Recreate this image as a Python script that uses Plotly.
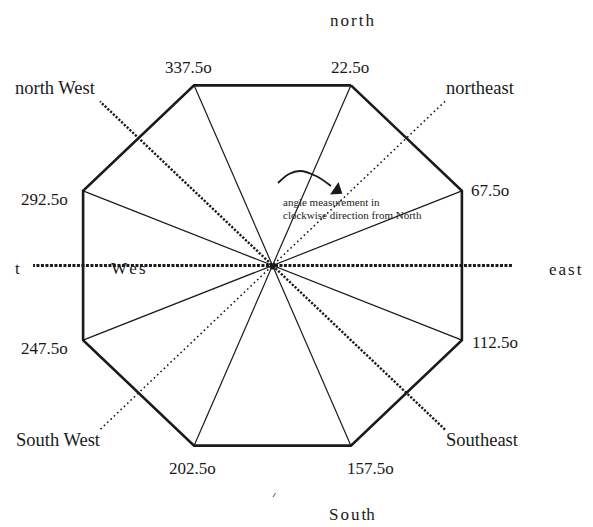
import numpy as np
import plotly.graph_objects as go

# ---- data ----
vertex_angles = [22.5, 67.5, 112.5, 157.5, 202.5, 247.5, 292.5, 337.5]
vertex_labels = ["22.5o", "67.5o", "112.5o", "157.5o", "202.5o", "247.5o", "292.5o", "337.5o"]
direction_angles = [90, 45, 135]          # dotted compass lines (east-west, NE-SW, NW-SE)
# letter groups: spaced labels are given as lists of glyph groups
direction_labels = [list("north"), "northeast", list("east"), "Southeast",
                    ["S", "o", "u", "th"], "South West", "t", "north West"]
west_fragment = list("Wes")
note_lines = ["angle measurement in", "clockwise direction from North"]

# ---- geometry (pixel-like axes; page has an 8px body margin) ----
W, H = 593, 527
OFF = 8
CX, CY = 272.5, 265.5
RX, RY = 205.0, 195.0


def pol(angle_deg, r=1.0):
    a = np.radians(angle_deg)
    return CX + r * RX * np.sin(a), CY - r * RY * np.cos(a)


def spaced(label, gap_px=8):
    if isinstance(label, list):
        return f"<span style='font-size:{gap_px}px'> </span>".join(label)
    return label


fig = go.Figure()

# dotted compass lines
dot_styles = [
    dict(width=3.0, dash="3px,1.5px"),
    dict(width=1.6, dash="1.6px,3px"),
    dict(width=2.4, dash="2.2px,1.6px"),
]
dot_r = [1.168, 1.19, 1.19]
for ang, st, r in zip(direction_angles, dot_styles, dot_r):
    x0, y0 = pol(ang, r)
    x1, y1 = pol(ang + 180, r)
    fig.add_trace(go.Scatter(x=[x0, x1], y=[y0, y1], mode="lines",
                             line=dict(color="#1a1a1a", **st), hoverinfo="skip"))

# spokes through the centre
for ang in vertex_angles[:4]:
    x0, y0 = pol(ang)
    x1, y1 = pol(ang + 180)
    fig.add_trace(go.Scatter(x=[x0, x1], y=[y0, y1], mode="lines",
                             line=dict(color="#1a1a1a", width=1.2), hoverinfo="skip"))

# octagon
ox, oy = zip(*[pol(a) for a in vertex_angles + vertex_angles[:1]])
fig.add_trace(go.Scatter(x=list(ox), y=list(oy), mode="lines",
                         line=dict(color="#1a1a1a", width=2.6), hoverinfo="skip"))

# centre blob
fig.add_trace(go.Scatter(x=[CX], y=[CY + 1], mode="markers",
                         marker=dict(color="#1a1a1a", size=6), hoverinfo="skip"))

# curved arrow
fig.add_trace(go.Scatter(x=[278, 289, 300, 316, 331], y=[183, 174, 171, 176, 186],
                         mode="lines", line=dict(color="#1a1a1a", width=1.8, shape="spline"),
                         hoverinfo="skip"))
fig.add_trace(go.Scatter(x=[337], y=[190], mode="markers",
                         marker=dict(symbol="triangle-up", size=13, angle=124, color="#1a1a1a"),
                         hoverinfo="skip"))

# tiny stroke near South
fig.add_trace(go.Scatter(x=[273, 275.5], y=[497, 493], mode="lines",
                         line=dict(color="#555", width=1), hoverinfo="skip"))

SERIF = "Liberation Serif"
ann = []


def txt(x, y, s, size=17, xanchor="center", color="#1a1a1a"):
    ann.append(dict(x=x, y=y, text=s, showarrow=False, xanchor=xanchor, yanchor="middle",
                    font=dict(family=SERIF, size=size, color=color)))


vertex_label_pos = {
    "22.5o": (350, 67), "67.5o": (490, 190), "112.5o": (495, 342), "157.5o": (370, 468),
    "202.5o": (192, 468), "247.5o": (44, 348), "292.5o": (44, 199), "337.5o": (188, 67),
}
for lab in vertex_labels:
    x, y = vertex_label_pos[lab]
    txt(x, y, lab)

dir_pos = [(352, 20), (480, 88), (584, 269), (482, 440),
           (352, 514), (58, 440), (17, 268), (55, 88)]
dir_anchor = ["center", "center", "right", "center", "center", "center", "center", "center"]
for lab, (x, y), xa in zip(direction_labels, dir_pos, dir_anchor):
    size = 17 if isinstance(lab, list) or len(lab) <= 1 else 18.5
    txt(x, y, spaced(lab), size=size, xanchor=xa)

txt(128, 268, spaced(west_fragment, 9))

for i, line in enumerate(note_lines):
    txt(281, 202 + i * 13, line, size=11, xanchor="left", color="#222")

fig.update_layout(
    width=W - OFF, height=H - OFF, autosize=False,
    margin=dict(l=0, r=0, t=0, b=0),
    paper_bgcolor="white", plot_bgcolor="white",
    showlegend=False, annotations=ann,
    xaxis=dict(range=[OFF, W], visible=False, fixedrange=True),
    yaxis=dict(range=[H, OFF], visible=False, fixedrange=True),
)

fig.write_html("out.html", config={"displayModeBar": False})
